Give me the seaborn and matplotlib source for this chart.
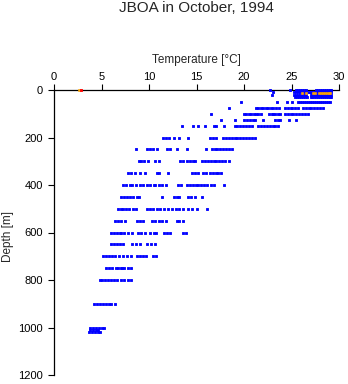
import matplotlib
matplotlib.use("Agg")
import matplotlib.pyplot as plt
import seaborn as sns
import pandas as pd

# ---- data ----
depths = [0, 10, 20, 30, 50, 75, 100, 125, 150, 200, 250, 300, 350, 400,
          450, 500, 550, 600, 650, 700, 750, 800, 900, 1000, 1010, 1020]

t_0 = [22.7, 24.85, 25.5, 25.7, 25.9, 26.1, 26.3, 26.5, 27.6, 27.8, 28.0, 28.2,
       28.4, 28.6, 28.8, 29.0, 29.2]
t_10 = [23.0, 25.3, 25.5, 25.7, 25.9, 26.1, 26.3, 26.5, 26.7, 26.9, 27.1, 27.3,
        27.5, 27.7, 27.9, 28.1, 28.3, 28.5, 28.7, 28.9, 29.1, 29.2]
t_20 = [22.9, 25.3, 25.5, 25.7, 25.9, 26.1, 26.3, 26.5, 27.0, 27.2, 27.4, 27.6,
        27.8, 28.0, 28.2, 28.4, 28.6, 28.8, 29.0, 29.2]
t_30 = [25.4, 25.6, 25.8, 26.0, 26.2, 26.4, 26.6, 27.0, 27.2, 27.4, 27.6, 27.8,
        28.0, 28.2, 28.4, 28.6, 28.8, 29.0, 29.2]
t_50 = [19.7, 23.5, 24.5, 25.1, 25.7, 25.9, 26.1, 26.3, 26.5, 26.7, 26.9, 27.2,
        27.4, 27.6, 27.8, 28.0, 28.2, 28.4, 28.6, 28.8, 29.0]
t_75 = [18.4, 21.3, 21.5, 21.8, 22.0, 22.3, 22.5, 22.8, 23.0, 23.4, 23.7, 24.3,
        24.6, 24.9, 25.1, 25.4, 25.7, 26.2, 26.5, 26.8, 27.1, 27.4, 27.7, 28.0, 28.3]
t_100 = [16.5, 20.0, 20.25, 20.5, 20.75, 21.0, 21.25, 21.5, 21.75, 22.6, 22.9,
         23.1, 23.3, 23.6, 23.8, 24.3, 24.6, 24.9, 25.2, 25.5, 25.8, 26.1, 26.4, 26.7]
t_125 = [17.6, 19.0, 20.0, 20.3, 20.6, 20.9, 21.2, 22.0, 23.3, 23.6, 23.8, 24.7, 25.5]
t_150 = [13.5, 14.6, 15.2, 15.9, 16.8, 17.1, 17.9, 19.0, 19.3, 19.6, 19.9, 20.2,
         20.5, 20.8, 21.5, 21.8, 22.1, 22.4, 22.7, 23.0, 23.3, 23.6]
t_200 = [11.5, 11.8, 12.1, 12.6, 13.2, 14.1, 16.4, 16.7, 17.0, 17.8, 18.1, 18.4,
         18.7, 19.0, 19.3, 19.6, 19.9, 20.2, 20.5, 20.8, 21.2]
t_250 = [8.6, 9.8, 10.1, 10.4, 10.8, 11.9, 12.2, 12.9, 14.0, 16.0, 16.6, 16.9,
         17.2, 17.5, 17.8, 18.1, 18.4, 18.7]
t_300 = [8.9, 9.2, 9.5, 9.9, 10.6, 11.05, 13.3, 13.6, 14.0, 14.3, 14.6, 14.8,
         15.6, 15.9, 16.2, 16.5, 16.8, 17.1, 17.4, 17.7, 18.0, 18.4]
t_350 = [7.8, 8.1, 8.5, 9.05, 9.6, 10.8, 11.05, 12.0, 14.5, 14.8, 15.2, 15.7,
         16.0, 16.4, 16.7, 17.0, 17.3, 17.6]
t_400 = [7.3, 7.6, 8.0, 8.25, 8.6, 9.05, 9.4, 9.8, 10.1, 10.5, 10.6, 11.0, 11.4,
         11.8, 13.0, 13.4, 14.0, 14.3, 14.6, 14.9, 15.2, 15.5, 15.8, 16.1, 16.5,
         16.8, 17.9]
t_450 = [7.1, 7.4, 7.7, 8.0, 8.3, 8.7, 8.95, 11.4, 12.6, 12.9, 13.2, 14.1, 14.4,
         14.8, 15.6]
t_500 = [6.7, 7.0, 7.3, 7.6, 7.9, 8.3, 8.6, 9.8, 10.1, 10.4, 10.8, 11.2, 11.6,
         12.0, 12.4, 12.8, 13.2, 13.6, 14.1, 14.5, 15.0, 16.1]
t_550 = [6.4, 6.7, 7.1, 7.5, 8.7, 9.0, 9.4, 10.3, 10.6, 11.0, 11.4, 11.8, 12.9,
         13.2, 13.6]
t_600 = [6.0, 6.3, 6.6, 6.9, 7.1, 7.4, 7.8, 8.2, 8.8, 9.2, 9.6, 10.1, 10.5,
         10.7, 11.6, 11.9, 12.2, 13.6, 13.9]
t_650 = [6.0, 6.3, 6.6, 6.9, 7.3, 8.2, 8.6, 9.05, 9.8, 10.2, 10.6]
t_700 = [5.2, 5.5, 5.8, 6.1, 6.4, 6.8, 7.3, 7.7, 8.1, 8.7, 9.0, 9.4, 9.7, 10.4, 10.7]
t_750 = [5.5, 5.8, 6.1, 6.5, 6.7, 7.0, 7.2, 7.4, 7.8, 8.1]
t_800 = [4.8, 5.1, 5.4, 5.7, 6.0, 6.3, 6.6, 7.0, 7.4, 7.8, 8.1]
t_900 = [4.25, 4.55, 4.85, 5.15, 5.45, 5.75, 6.05, 6.4]
t_1000 = [3.8, 4.1, 4.4, 4.7, 5.0, 5.3]
t_1010 = [3.8, 4.1, 4.4, 4.6]
t_1020 = [3.7, 4.0, 4.3, 4.6, 4.8]

temps = [t_0, t_10, t_20, t_30, t_50, t_75, t_100, t_125, t_150, t_200, t_250,
         t_300, t_350, t_400, t_450, t_500, t_550, t_600, t_650, t_700, t_750,
         t_800, t_900, t_1000, t_1010, t_1020]

# flagged points
orange_depth = [14, 14, 14, 14, 14, 14, 14, 14, 14, 14, 14, 0]
orange_temp = [26.1, 26.5, 27.3, 27.5, 27.9, 28.1, 28.3, 28.5, 28.7, 28.9,
               29.1, 2.6]
red_depth = [0]
red_temp = [2.85]

rows = []
for d, ts in zip(depths, temps):
    for t in ts:
        rows.append({"T": t, "D": d, "q": "good"})
df = pd.DataFrame(rows)
df_orange = pd.DataFrame({"T": orange_temp, "D": orange_depth})
df_red = pd.DataFrame({"T": red_temp, "D": red_depth})

sns.set_style("ticks")
plt.rcParams["font.family"] = ["Liberation Sans", "DejaVu Sans"]

W, H = 348, 384
fig = plt.figure(figsize=(W / 100, H / 100), dpi=100)
x0, x1, y0, y1 = 54, 339, 90, 375
ax = fig.add_axes([x0 / W, 1 - y1 / H, (x1 - x0) / W, (y1 - y0) / H])

sns.scatterplot(data=df, x="T", y="D", color="#0000ff",
                marker="s", s=4.2, linewidth=0, legend=False, ax=ax,
                clip_on=False, zorder=3, snap=False)
sns.scatterplot(data=df_orange, x="T", y="D", color="#ffa500",
                marker="s", s=3.5, linewidth=0, legend=False, ax=ax,
                clip_on=False, zorder=4, snap=False)
sns.scatterplot(data=df_red, x="T", y="D", color="#ff0000",
                marker="s", s=4.2, linewidth=0, legend=False, ax=ax,
                clip_on=False, zorder=5, snap=False)

ax.set_xlim(0, 30)
ax.set_ylim(1200, 0)
ax.set_xticks([0, 5, 10, 15, 20, 25, 30])
ax.set_yticks([0, 200, 400, 600, 800, 1000, 1200])
ax.xaxis.tick_top()
for s in ["bottom", "right"]:
    ax.spines[s].set_visible(False)
for s in ["top", "left"]:
    ax.spines[s].set_linewidth(0.9)
    ax.spines[s].set_color("black")
    ax.spines[s].set_zorder(2)
ax.tick_params(axis="both", length=4, width=0.8, colors="black", labelsize=8)
ax.tick_params(axis="x", pad=2)
ax.tick_params(axis="y", pad=4)
ax.set_xlabel("")
ax.set_ylabel("")
ax.set_facecolor("white")

fig.text(196.5 / W, 1 - 8.5 / H, "JBOA in October, 1994", ha="center",
         va="center", fontsize=11)
fig.text(196.5 / W, 1 - 60.5 / H, "Temperature [\u00b0C]", ha="center",
         va="center", fontsize=8.5)
fig.text(8 / W, 1 - 237 / H, "Depth [m]", ha="center", va="center",
         rotation=90, fontsize=8.5)

fig.savefig("out.png", dpi=100, facecolor="white")
